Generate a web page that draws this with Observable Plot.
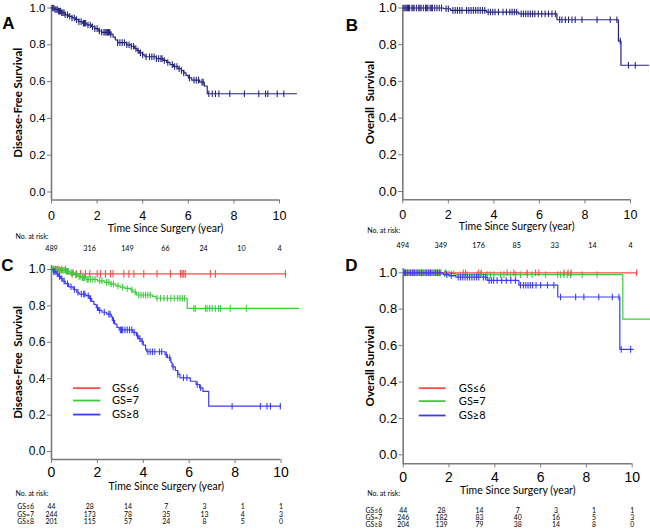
<!DOCTYPE html>
<html><head><meta charset="utf-8">
<script src="https://cdn.jsdelivr.net/npm/d3@7"></script>
<script src="https://cdn.jsdelivr.net/npm/@observablehq/plot@0.6"></script>
<style>
body{margin:0;background:#fff;}
#chart{position:relative;width:650px;height:530px;overflow:hidden;background:#fff;}
#chart > svg{position:absolute;overflow:visible;}
</style></head><body><div id="chart"></div>
<script>
// ---------- data ----------
const timeTicks = [0, 2, 4, 6, 8, 10];
const survTicks = [0, 0.2, 0.4, 0.6, 0.8, 1.0];
const riskTimes = [0, 1.67, 3.33, 5, 6.67, 8.33, 10];
const groups = ["GS≤6", "GS=7", "GS≥8"];
const groupColors = ["#ff4a4a", "#3ccc3c", "#3a3aff"];
const navy = "#24247f";

const riskA = [489, 316, 149, 66, 24, 10, 4];
const riskB = [494, 349, 176, 85, 33, 14, 4];
const riskC6 = [44, 28, 14, 7, 3, 1, 1];
const riskC7 = [244, 173, 78, 35, 13, 4, 3];
const riskC8 = [201, 115, 57, 24, 8, 5, 0];
const riskD6 = [44, 28, 14, 7, 3, 1, 1];
const riskD7 = [246, 182, 83, 40, 16, 5, 3];
const riskD8 = [204, 139, 79, 38, 14, 8, 0];

// Kaplan-Meier steps: [time, survival after step]
const dfsAll = [[0,1],[0.15,0.992],[0.3,0.983],[0.45,0.974],[0.6,0.963],[0.75,0.955],[0.9,0.946],[1.05,0.937],[1.2,0.926],[1.35,0.917],[1.55,0.908],[1.75,0.898],[1.9,0.888],[2.05,0.875],[2.2,0.868],[2.6,0.858],[2.7,0.842],[2.8,0.826],[2.9,0.812],[3.3,0.8],[3.5,0.792],[3.65,0.78],[3.75,0.768],[3.85,0.756],[4.0,0.745],[4.1,0.735],[4.6,0.725],[4.9,0.715],[5.05,0.704],[5.2,0.692],[5.35,0.682],[5.55,0.67],[5.7,0.66],[5.8,0.647],[5.9,0.634],[6.0,0.62],[6.15,0.608],[6.5,0.597],[6.7,0.576],[6.83,0.534],[10.75,0.534]];
const dfsAllCensor = [0.05,0.1,0.15,0.2,0.25,0.3,0.35,0.4,0.45,0.5,0.55,0.6,0.7,0.8,0.9,1.0,1.1,1.2,1.3,1.4,1.45,1.5,1.6,1.7,1.8,1.9,2.0,2.1,2.2,2.3,2.35,2.4,2.45,2.5,2.55,2.6,2.9,3.0,3.1,3.2,3.3,3.4,3.5,3.6,3.7,3.8,3.9,4.0,4.15,4.3,4.4,4.5,4.6,4.7,4.8,4.85,4.95,5.1,5.3,5.4,5.5,5.6,5.7,5.8,6.05,6.25,6.35,6.45,6.6,6.65,6.9,7.05,7.19,7.34,7.82,8.46,9.09,9.39,9.49,9.9,10.19];

const osAll = [[0,1],[1.8,0.996],[2.1,0.987],[3.67,0.978],[5.09,0.968],[6.77,0.936],[9.47,0.82],[9.58,0.688],[10.8,0.688]];
const osAllCensor = [0.05,0.1,0.15,0.2,0.25,0.3,0.4,0.45,0.5,0.6,0.7,0.75,0.8,0.9,1.0,1.05,1.1,1.2,1.25,1.3,1.4,1.5,1.6,1.7,1.9,2.0,2.2,2.3,2.4,2.5,2.6,2.8,2.9,3.0,3.1,3.2,3.3,3.4,3.5,3.6,3.75,3.85,3.95,4.05,4.2,4.4,4.55,4.7,4.8,4.9,5.0,5.2,5.3,5.4,5.5,5.6,5.7,5.8,5.95,6.1,6.25,6.4,6.55,6.7,6.89,6.99,7.14,7.28,7.43,7.57,7.87,8.53,9.11,9.4,9.55,9.91,10.21];

const dfs6 = [[0,1],[0.68,0.976],[10.19,0.976]];
const dfs6Censor = [0.1,0.17,0.25,0.32,0.45,0.61,0.9,1.09,1.26,1.48,1.67,1.99,2.13,2.35,2.57,2.68,3.15,3.37,3.59,4.02,4.6,5.18,5.62,5.69,5.76,5.83,6.92,7.14,10.19];
const dfs7 = [[0,1],[0.3,0.996],[0.6,0.99],[0.8,0.982],[1.0,0.972],[1.15,0.962],[1.3,0.955],[1.5,0.946],[2.0,0.938],[2.3,0.929],[2.55,0.92],[2.8,0.91],[3.0,0.903],[3.2,0.896],[3.45,0.888],[3.55,0.876],[3.7,0.86],[4.4,0.852],[4.55,0.842],[5.91,0.786],[10.77,0.786]];
const dfs7Censor = [0.05,0.1,0.15,0.2,0.25,0.35,0.4,0.45,0.5,0.55,0.65,0.7,0.75,0.85,0.9,0.95,1.05,1.1,1.2,1.25,1.35,1.4,1.45,1.55,1.6,1.7,1.8,1.9,2.1,2.2,2.4,2.5,2.6,2.7,2.9,3.1,3.3,3.5,3.65,3.8,3.9,4.0,4.1,4.2,4.3,4.6,4.75,4.9,5.05,5.2,5.35,5.5,5.6,5.7,5.8,6.2,6.27,6.71,6.78,6.89,7.0,7.14,7.28,7.36,7.79,8.49];
const dfs8 = [[0,1],[0.1,0.988],[0.2,0.976],[0.3,0.962],[0.4,0.95],[0.5,0.936],[0.6,0.922],[0.75,0.905],[0.95,0.89],[1.1,0.875],[1.2,0.865],[1.5,0.856],[1.65,0.84],[1.75,0.825],[1.85,0.808],[1.95,0.79],[2.05,0.775],[2.2,0.765],[2.4,0.755],[2.6,0.742],[2.65,0.72],[2.75,0.7],[2.85,0.682],[2.95,0.668],[3.55,0.655],[3.7,0.635],[3.8,0.62],[3.9,0.605],[4.0,0.585],[4.1,0.56],[4.15,0.548],[4.95,0.532],[5.05,0.515],[5.2,0.49],[5.25,0.465],[5.4,0.445],[5.5,0.425],[5.6,0.405],[6.05,0.386],[6.3,0.368],[6.45,0.35],[6.6,0.33],[6.85,0.249],[9.97,0.249]];
const dfs8Censor = [0.1,0.15,0.25,0.35,0.45,0.55,0.7,0.85,1.0,1.15,1.3,1.4,1.45,1.6,1.7,2.0,2.1,2.3,2.5,2.55,2.7,3.0,3.05,3.1,3.2,3.3,3.4,3.5,3.6,3.75,3.85,3.95,4.2,4.3,4.4,4.5,4.7,4.8,5.0,5.15,5.3,5.5,5.75,5.9,6.35,6.5,7.87,9.1,9.39,9.54,9.97];

const os6 = [[0,1],[10.2,1]];
const os6Censor = [0.1,0.2,0.32,0.47,0.64,0.8,1.0,1.2,1.4,1.6,1.85,2.62,2.72,3.3,3.41,4.54,4.83,5.41,5.78,5.92,7.02,7.2,7.34,10.19];
const os7 = [[0,1],[1.7,0.995],[2.3,0.99],[9.59,0.745],[10.8,0.745]];
const os7Censor = [0.05,0.15,0.25,0.35,0.45,0.55,0.65,0.75,0.85,0.95,1.05,1.15,1.25,1.35,1.45,1.55,1.65,1.8,1.9,2.0,2.1,2.21,2.5,2.79,3.23,3.38,3.67,3.81,3.96,4.25,4.4,4.69,4.91,5.12,5.42,5.63,6.22,6.75,6.87,7.02,7.16,7.31,7.82,8.47];
const os8 = [[0,1],[1.75,0.99],[2.0,0.985],[2.3,0.976],[3.67,0.958],[5.05,0.932],[6.75,0.867],[9.46,0.579],[10.04,0.579]];
const os8Censor = [0.05,0.1,0.2,0.3,0.4,0.5,0.6,0.7,0.8,0.9,1.0,1.1,1.2,1.3,1.4,1.5,1.6,1.9,2.1,2.4,2.5,2.6,2.7,2.8,2.9,3.0,3.1,3.2,3.3,3.5,3.6,3.75,3.85,3.95,4.1,4.3,4.5,4.7,4.9,5.12,5.25,5.35,5.45,5.55,5.65,5.8,6.0,6.3,6.58,6.87,7.53,7.89,8.54,9.13,9.42,9.52,9.93];

// ---------- helpers ----------
const censorTick = {draw(ctx, size) { const h = Math.sqrt(size / Math.PI); ctx.moveTo(0, -h); ctx.lineTo(0, h); }};
function survAt(steps, t) { let s = steps[0][1]; for (const [tt, ss] of steps) { if (tt <= t) s = ss; else break; } return s; }
function curveMarks(steps, censor, color, r) {
  return [
    Plot.line(steps, {x: d => d[0], y: d => d[1], curve: "step-after", stroke: color, strokeWidth: 1.2}),
    Plot.dot(censor, {x: d => d, y: d => survAt(steps, d), symbol: censorTick, r: r || 3.3, stroke: color, fill: "none", strokeWidth: 1.1})
  ];
}
const titleFont = "Lato, 'Open Sans', sans-serif";
const axisFont = "'Liberation Sans', Arial, sans-serif";
const mid = {textAnchor: "middle", lineAnchor: "middle"};

function panel(cfg) {
  const {left, top, width, height, x0, x10, y1, y0, axTop, axBot} = cfg;
  const yAt = py => (y0 - py) / (y0 - y1);
  const yDom = [yAt(axBot), yAt(axTop)];
  const axisColor = "#7a7a7a";
  const riskFont = cfg.riskFont || 7.2;
  const marks = [
    Plot.ruleX([0], {y1: yDom[0], y2: yDom[1], stroke: axisColor, strokeWidth: 1.6}),
    Plot.ruleY([yDom[0]], {x1: 0, x2: 10, stroke: axisColor, strokeWidth: 1.6}),
    Plot.axisY({ticks: survTicks, tickFormat: d3.format(".1f"), tickSize: 4, tickPadding: 2, fontSize: cfg.yFont, stroke: axisColor, fill: "black", label: null}),
    Plot.axisX({ticks: timeTicks, tickFormat: d3.format("d"), tickSize: 4, tickPadding: cfg.xPad, fontSize: cfg.xFont, stroke: axisColor, fill: "black", label: null}),
    Plot.text([cfg.letter], {...mid, frameAnchor: "top-left", dx: cfg.letterDx, dy: cfg.letterDy, fontSize: 17, fontWeight: "bold", fontFamily: axisFont}),
    Plot.text([cfg.yTitle], {...mid, frameAnchor: "left", dx: cfg.yTitleDx, rotate: -90, fontSize: 11.5, fontWeight: "bold", fontFamily: titleFont}),
    Plot.text(["Time Since Surgery (year)"], {...mid, frameAnchor: "bottom", dy: cfg.xTitleDy, fontSize: 10.5, fontFamily: titleFont}),
    Plot.text(["No. at risk:"], {frameAnchor: "bottom-left", dx: cfg.riskDx, dy: cfg.riskDy, textAnchor: "start", lineAnchor: "middle", fontSize: 7, fontFamily: titleFont})
  ];
  for (const row of cfg.rows) {
    marks.push(Plot.text(row.values, {...mid, x: (d, i) => riskTimes[i], frameAnchor: "bottom", dy: row.dy, text: d => String(d), fontSize: riskFont, fontFamily: titleFont}));
    if (row.label) marks.push(Plot.text([row.label], {frameAnchor: "bottom-left", dx: cfg.rowLabelDx, dy: row.dy, textAnchor: "start", lineAnchor: "middle", fontSize: riskFont, fontFamily: titleFont}));
  }
  for (const c of cfg.curves) marks.push(...curveMarks(c.steps, c.censor, c.color, c.r));
  if (cfg.legend) {
    const L = cfg.legend;
    groups.forEach((g, i) => {
      marks.push(Plot.link([g], {x1: L.x1, x2: L.x2, y1: L.ys[i], y2: L.ys[i], stroke: groupColors[i], strokeWidth: 1.8}));
      marks.push(Plot.text([g], {x: L.tx, y: L.ys[i], textAnchor: "start", lineAnchor: "middle", fontSize: 11, fontFamily: titleFont}));
    });
  }
  const svg = Plot.plot({
    width, height,
    marginLeft: x0 - left, marginRight: left + width - x10,
    marginTop: axTop - top, marginBottom: top + height - axBot,
    x: {domain: [0, 10], label: null},
    y: {domain: yDom, label: null},
    style: {fontFamily: axisFont, background: "transparent", overflow: "visible"},
    marks
  });
  svg.style.left = left + "px";
  svg.style.top = top + "px";
  document.getElementById("chart").appendChild(svg);
}

panel({left: 0, top: 0, width: 325, height: 255, x0: 51, x10: 279, y1: 7.5, y0: 191.5, axTop: 5, axBot: 199.5,
  yFont: 11.5, xFont: 12.5, xPad: 7.5, letter: "A", letterDx: -43, letterDy: 18,
  yTitle: "Disease-Free Survival", yTitleDx: -33, xTitleDy: 29, riskDx: -36, riskDy: 36.5,
  rows: [{label: null, values: riskA, dy: 48.5}],
  curves: [{steps: dfsAll, censor: dfsAllCensor, color: navy}]});

panel({left: 325, top: 0, width: 325, height: 255, x0: 402.3, x10: 630, y1: 7.5, y0: 191, axTop: 5, axBot: 199.3,
  yFont: 13, xFont: 12.5, xPad: 6, letter: "B", letterDx: -51, letterDy: 20,
  yTitle: "Overall\u00a0 Survival", yTitleDx: -32.3, xTitleDy: 27, riskDx: -35.6, riskDy: 31, rowLabelDx: -36,
  rows: [{label: null, values: riskB, dy: 46}],
  curves: [{steps: osAll, censor: osAllCensor, color: navy}]});

panel({left: 0, top: 255, width: 325, height: 275, x0: 51, x10: 280.5, y1: 269, y0: 451, axTop: 265, axBot: 459,
  yFont: 12, xFont: 14, xPad: 3.8, letter: "C", letterDx: -44, letterDy: 0, riskFont: 6.9,
  yTitle: "Disease-Free\u00a0 Survival", yTitleDx: -33, xTitleDy: 27, riskDx: -36, riskDy: 34.3, rowLabelDx: -34.3,
  rows: [{label: "GS≤6", values: riskC6, dy: 47.7}, {label: "GS=7", values: riskC7, dy: 55.1}, {label: "GS≥8", values: riskC8, dy: 62.6}],
  curves: [{steps: dfs6, censor: dfs6Censor, color: groupColors[0], r: 3.8}, {steps: dfs7, censor: dfs7Censor, color: groupColors[1]}, {steps: dfs8, censor: dfs8Censor, color: groupColors[2]}],
  legend: {x1: 0.94, x2: 2.13, tx: 2.64, ys: [0.348, 0.28, 0.203]}});

panel({left: 325, top: 255, width: 325, height: 275, x0: 402.7, x10: 631.7, y1: 272.3, y0: 454.3, axTop: 268, axBot: 463.3,
  yFont: 13, xFont: 14, xPad: 4.5, letter: "D", letterDx: -51.7, letterDy: -3, riskFont: 6.9,
  yTitle: "Overall Survival", yTitleDx: -32.7, xTitleDy: 26.7, riskDx: -36, riskDy: 30, rowLabelDx: -37.7,
  rows: [{label: "GS≤6", values: riskD6, dy: 46.7}, {label: "GS=7", values: riskD7, dy: 54}, {label: "GS≥8", values: riskD8, dy: 61.3}],
  curves: [{steps: os7, censor: os7Censor, color: groupColors[1]}, {steps: os6, censor: os6Censor, color: groupColors[0]}, {steps: os8, censor: os8Censor, color: groupColors[2]}],
  legend: {x1: 0.68, x2: 1.85, tx: 2.43, ys: [0.366, 0.295, 0.216]}});
</script></body></html>
